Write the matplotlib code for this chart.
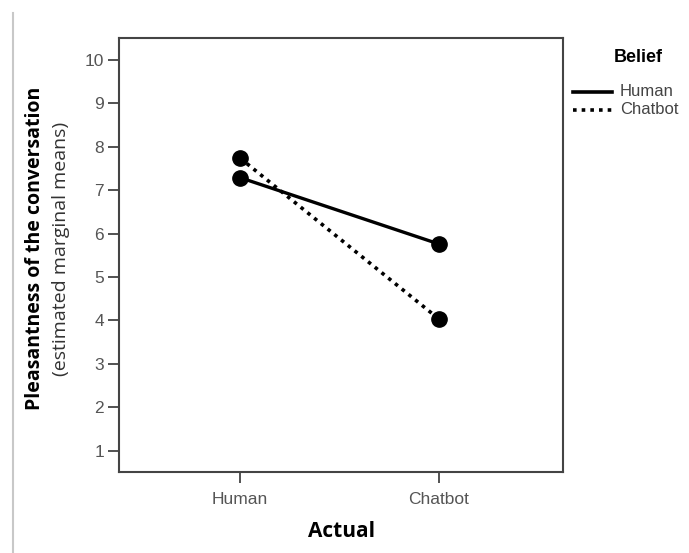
import matplotlib.pyplot as plt
from matplotlib.lines import Line2D

# data
actual = ["Human", "Chatbot"]
belief_human = [7.29, 5.76]
belief_chatbot = [7.74, 4.03]
yticks = list(range(1, 11))
belief_labels = ["Human", "Chatbot"]

W, H = 689, 553
fig = plt.figure(figsize=(W / 100, H / 100), dpi=100)
ax = fig.add_axes([0.1732, 0.1459, 0.8171 - 0.1732, 0.9307 - 0.1459])

dotted = (0, (1, 1.4))
xpos = list(range(len(actual)))
ax.plot(xpos, belief_human, color="black", lw=2.4, ls="-",
        marker="o", ms=11, solid_capstyle="butt")
ax.plot(xpos, belief_chatbot, color="black", lw=2.6, ls=dotted,
        marker="o", ms=11)

ax.set_xlim(-0.607, 1.623)
ax.set_ylim(0.5, 10.5)
ax.set_xticks(xpos)
ax.set_xticklabels(actual)
ax.set_yticks(yticks)

for lab in ax.get_xticklabels() + ax.get_yticklabels():
    lab.set_fontfamily("Liberation Sans")
    lab.set_fontsize(12.5)
    lab.set_color("#555555")

ax.tick_params(direction="out", length=8, width=1.3, color="#444444", pad=3)
ax.tick_params(axis="x", pad=6)
for s in ax.spines.values():
    s.set_color("#444444")
    s.set_linewidth(1.5)

ax.set_xlabel("Actual", fontfamily="Open Sans", fontweight="bold", fontsize=15, labelpad=10)

# two-line y label: bold first line, normal second line
fig.text(35 / W, 1 - 248 / H, "Pleasantness of the conversation", rotation=90,
         ha="center", va="center", fontfamily="Open Sans", fontweight="bold", fontsize=14)
fig.text(61 / W, 1 - 249 / H, "(estimated marginal means)", rotation=90,
         ha="center", va="center", fontfamily="Open Sans", fontsize=14, color="#333333")

# legend drawn by hand so it fits the right edge
fig.text(638 / W, 1 - 58 / H, "Belief", ha="center", va="center",
         fontfamily="Liberation Sans", fontweight="bold", fontsize=13)
for i, (lab, ls) in enumerate(zip(belief_labels, ["-", dotted])):
    y = 1 - (92 + i * 18) / H
    fig.add_artist(Line2D([573 / W, 612 / W], [y, y], color="black", lw=2.6, ls=ls,
                          transform=fig.transFigure))
    fig.text(620 / W, y, lab, ha="left", va="center", fontfamily="Liberation Sans",
             fontsize=12, color="#444444")

# thin grey frame line on the left edge of the page
fig.add_artist(Line2D([0.0185, 0.0185], [0.0, 0.977], color="#c8c8c8", lw=1.5,
                      transform=fig.transFigure))

fig.savefig("out.png", dpi=100)
